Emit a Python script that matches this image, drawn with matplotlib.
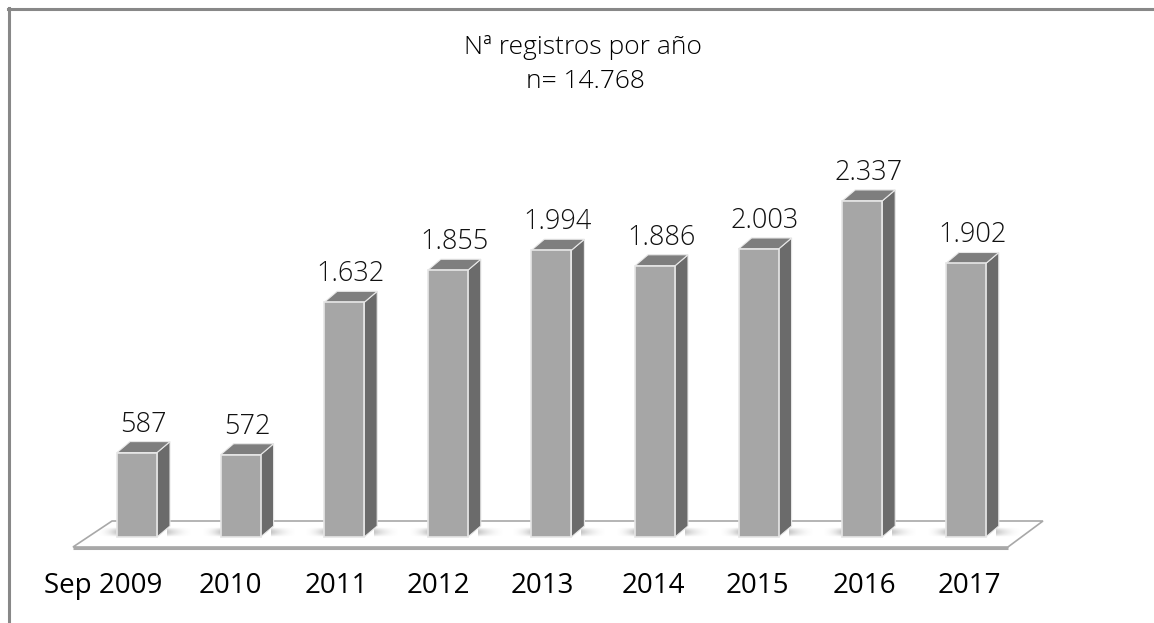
import numpy as np
import matplotlib
matplotlib.use("Agg")
import matplotlib.pyplot as plt
from matplotlib.patches import Polygon, Rectangle
from matplotlib.lines import Line2D

years = ["Sep 2009", "2010", "2011", "2012", "2013", "2014", "2015", "2016", "2017"]
counts = [587, 572, 1632, 1855, 1994, 1886, 2003, 2337, 1902]
value_labels = ["587", "572", "1.632", "1.855", "1.994", "1.886", "2.003", "2.337", "1.902"]
title = "Nª registros por año\nn= 14.768"

# pixel -> data conversions (figure is 1154x623 px, axes fill it)
W, H = 1154, 623
px_x = 1 / 103.6          # one pixel in category units
px_y = 1 / 0.1438         # one pixel in value units

fig = plt.figure(figsize=(W / 100, H / 100), dpi=100)
ax = fig.add_axes([0, 0, 1, 1])
ax.set_xlim(-137 * px_x, (W - 137) * px_x)
ax.set_ylim(-(H - 537) * px_y, 537 * px_y)
ax.axis("off")

font = "Open Sans"

# floor (thin slab in perspective)
n = len(counts)
back_y, front_y = 16 * px_y, -10 * px_y
floor = Polygon([(-0.241, back_y), (n - 1 + 0.745, back_y),
                 (n - 1 + 0.407, front_y), (-0.618, front_y)],
                closed=True, facecolor="white", edgecolor="#a8a8a8", lw=1.2, zorder=1)
ax.add_patch(floor)
ax.plot([-0.618, n - 1 + 0.407], [front_y - 1.2 * px_y] * 2, color="#a8a8a8", lw=2.2, zorder=1,
        solid_capstyle="butt")

hw = 20 * px_x
dx, dy = 13 * px_x, 11 * px_y

# soft shadows around each bar base
gy = np.sin(np.linspace(0, np.pi, 16))[:, None]
for i in range(n):
    for g, x0, x1 in [(np.linspace(0, 1, 64) ** 2, i - hw - 20 * px_x, i - hw),
                      (np.linspace(1, 0, 64) ** 2, i + hw + dx - 3 * px_x, i + hw + dx + 24 * px_x)]:
        rgba = np.zeros((16, 64, 4))
        rgba[..., :3] = 0.5
        rgba[..., 3] = 0.45 * g[None, :] * gy
        ax.imshow(rgba, extent=(x0, x1, 0, 10 * px_y), aspect="auto",
                  interpolation="bilinear", zorder=2)

for i, v in enumerate(counts):
    x0, x1 = i - hw, i + hw
    side = Polygon([(x1, 0), (x1 + dx, dy), (x1 + dx, v + dy), (x1, v)],
                   closed=True, facecolor="#6b6b6b", edgecolor="#e8e8e8", lw=0.8, zorder=3)
    top = Polygon([(x0, v), (x1, v), (x1 + dx, v + dy), (x0 + dx, v + dy)],
                  closed=True, facecolor="#7e7e7e", edgecolor="#e8e8e8", lw=0.8, zorder=3)
    front = Rectangle((x0, 0), 2 * hw, v, facecolor="#a6a6a6", edgecolor="#e6e6e6",
                      lw=1.2, zorder=4)
    ax.add_patch(side)
    ax.add_patch(top)
    ax.add_patch(front)
    ax.text(i + dx / 2, v + dy + 10 * px_y, value_labels[i], ha="center", va="baseline",
            fontsize=19.5, family=font, fontweight="light", color="#111111", zorder=5)

# category labels sit slightly left of the bars (perspective)
label_shift_px = [-34, -10, -8, -9, -9, -2, -1, 2, 4]
for i, lab in enumerate(years):
    ax.text(i + label_shift_px[i] * px_x, -49 * px_y, lab, ha="center", va="center",
            fontsize=20, family=font, color="black")

fig.text(583 / W, 1 - 47 / H, "Nª registros por año", ha="center", va="center",
         fontsize=19, family=font, fontweight="light")
fig.text(585 / W, 1 - 82 / H, "n= 14.768", ha="center", va="center",
         fontsize=19, family=font, fontweight="light")

# frame lines (left and top only)
fig.add_artist(Line2D([9 / W, 9 / W], [0, 1 - 8 / H], transform=fig.transFigure,
                      color="#888888", lw=2.2))
fig.add_artist(Line2D([8 / W, 1], [1 - 9 / H, 1 - 9 / H], transform=fig.transFigure,
                      color="#888888", lw=2.2))

fig.savefig("out.png", dpi=100, facecolor="white")
